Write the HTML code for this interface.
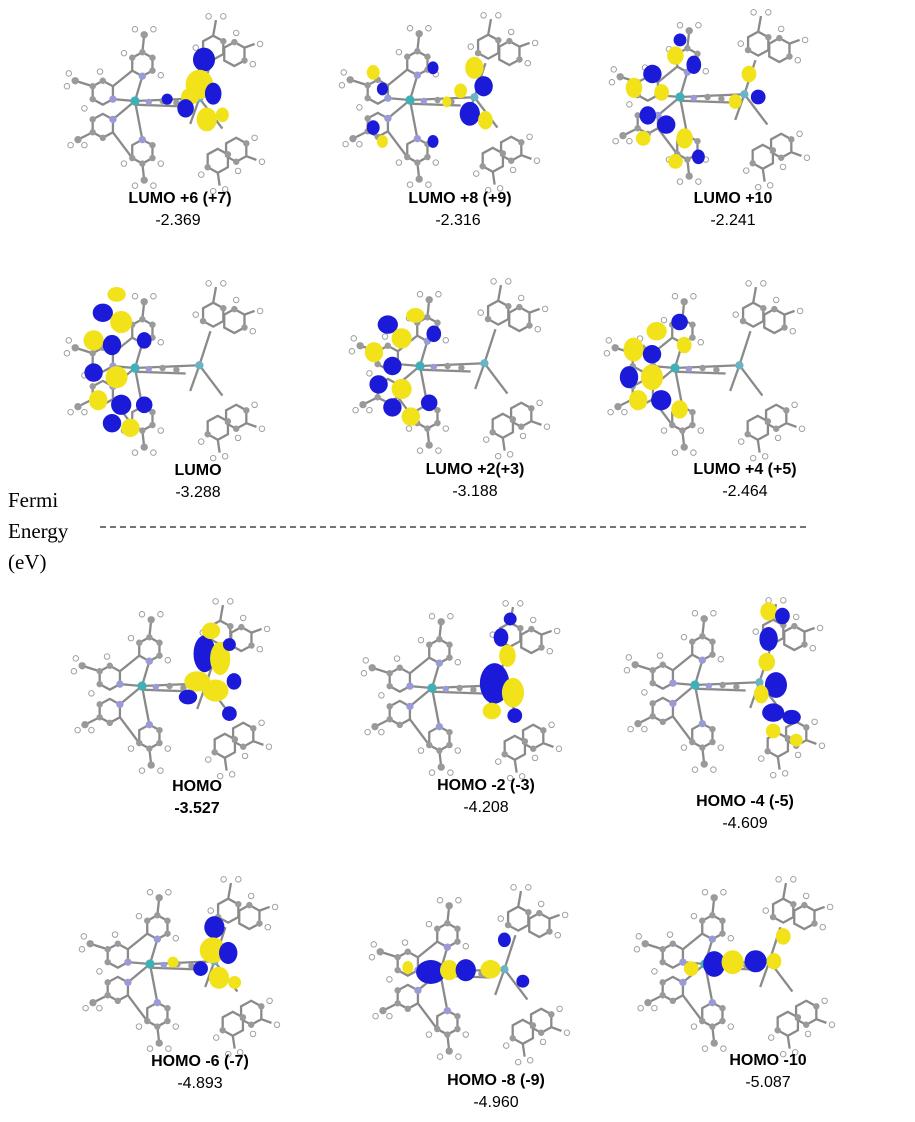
<!DOCTYPE html>
<html><head><meta charset="utf-8"><style>
body{margin:0;background:#fff}
svg{display:block}
.t{font-family:"Liberation Sans",sans-serif;font-size:16px;text-anchor:middle;fill:#000}
.b{font-weight:bold}
.f{font-family:"Liberation Serif",serif;font-size:21px;fill:#000}
</style></head><body>
<svg width="915" height="1122" viewBox="0 0 915 1122" xmlns="http://www.w3.org/2000/svg">
<defs>
<g id="mol">
 <g stroke="#8a8a8a" stroke-width="2.5" fill="none">
  <polygon points="8,-27 19,-33 19,-47 8,-53 -3,-47 -3,-33"/>
  <line x1="0" y1="0" x2="8" y2="-27"/><line x1="8" y1="-53" x2="10" y2="-72"/>
  <polygon points="8,42 19,48 19,62 8,68 -3,62 -3,48"/>
  <line x1="0" y1="0" x2="8" y2="42"/><line x1="8" y1="68" x2="10" y2="86"/>
  <polygon points="-35,-22 -24,-16 -24,-2 -35,4 -46,-2 -46,-16"/>
  <polygon points="-35,14 -24,20 -24,34 -35,40 -46,34 -46,20"/>
  <line x1="0" y1="0" x2="-24" y2="-2"/><line x1="0" y1="0" x2="-24" y2="20"/>
  <line x1="-46" y1="-16" x2="-65" y2="-22"/><line x1="-46" y1="34" x2="-62" y2="42"/>
  <line x1="-3" y1="-33" x2="-24" y2="-16"/><line x1="-3" y1="62" x2="-24" y2="34"/>
  <line x1="0" y1="0" x2="70" y2="-3"/><line x1="0" y1="4" x2="55" y2="6"/>
  <line x1="70" y1="-3" x2="82" y2="-40"/><line x1="70" y1="-3" x2="95" y2="30"/><line x1="70" y1="-3" x2="60" y2="25"/>
  <polygon points="85,-45 96,-51 96,-65 85,-71 74,-65 74,-51"/>
  <polygon points="108,-38 119,-44 119,-58 108,-64 97,-58 97,-44"/>
  <polygon points="110,40 121,46 121,60 110,66 99,60 99,46"/>
  <polygon points="90,52 101,58 101,72 90,78 79,72 79,58"/>
  <line x1="85" y1="-71" x2="88" y2="-88"/><line x1="119" y1="-58" x2="130" y2="-62"/>
  <line x1="121" y1="60" x2="132" y2="64"/><line x1="90" y1="78" x2="92" y2="92"/>
 </g>
 <g fill="#9a9a9a">
  <circle cx="19" cy="-33" r="3.5"/><circle cx="19" cy="-47" r="3.5"/><circle cx="-3" cy="-47" r="3.5"/><circle cx="8" cy="-53" r="3.5"/><circle cx="10" cy="-72" r="4"/>
  <circle cx="19" cy="48" r="3.5"/><circle cx="19" cy="62" r="3.5"/><circle cx="-3" cy="62" r="3.5"/><circle cx="8" cy="68" r="3.5"/><circle cx="10" cy="86" r="4"/>
  <circle cx="-35" cy="-22" r="3.5"/><circle cx="-46" cy="-16" r="3.5"/><circle cx="-46" cy="-2" r="3.5"/><circle cx="-65" cy="-22" r="4"/>
  <circle cx="-35" cy="40" r="3.5"/><circle cx="-46" cy="20" r="3.5"/><circle cx="-46" cy="34" r="3.5"/><circle cx="-62" cy="42" r="4"/>
  <circle cx="30" cy="0" r="3.5"/><circle cx="45" cy="2" r="3.5"/>
  <circle cx="74" cy="-51" r="3.5"/><circle cx="96" cy="-65" r="3.5"/><circle cx="119" cy="-44" r="3.5"/><circle cx="108" cy="-64" r="3.5"/>
  <circle cx="121" cy="46" r="3.5"/><circle cx="110" cy="66" r="3.5"/><circle cx="79" cy="72" r="3.5"/><circle cx="101" cy="58" r="3.5"/>
 </g>
 <g fill="#9a9ad8"><circle cx="8" cy="-27" r="4"/><circle cx="8" cy="42" r="4"/><circle cx="-24" cy="-2" r="4"/><circle cx="-24" cy="20" r="4"/><circle cx="15" cy="1" r="3.5"/></g>
 <g fill="#fff" stroke="#999" stroke-width="1">
  <circle cx="0" cy="-78" r="3"/><circle cx="20" cy="-78" r="3"/><circle cx="28" cy="-28" r="3"/><circle cx="-12" cy="-52" r="3"/>
  <circle cx="0" cy="92" r="3"/><circle cx="20" cy="92" r="3"/><circle cx="28" cy="68" r="3"/><circle cx="-12" cy="68" r="3"/>
  <circle cx="-72" cy="-30" r="3"/><circle cx="-74" cy="-16" r="3"/><circle cx="-38" cy="-32" r="3"/><circle cx="-70" cy="48" r="3"/><circle cx="-55" cy="48" r="3"/><circle cx="-55" cy="8" r="3"/>
  <circle cx="80" cy="-92" r="3"/><circle cx="96" cy="-92" r="3"/><circle cx="66" cy="-58" r="3"/><circle cx="128" cy="-40" r="3"/><circle cx="136" cy="-62" r="3"/><circle cx="110" cy="-74" r="3"/>
  <circle cx="130" cy="40" r="3"/><circle cx="138" cy="66" r="3"/><circle cx="112" cy="76" r="3"/><circle cx="85" cy="98" r="3"/><circle cx="98" cy="96" r="3"/><circle cx="72" cy="80" r="3"/>
 </g>
 <circle cx="0" cy="0" r="5" fill="#3fb0b8"/><circle cx="70" cy="-3" r="4.5" fill="#6ab4c8"/>
</g>
</defs>

<!-- Row 1 -->
<g transform="translate(135,101) scale(0.92)"><use href="#mol"/>
 <ellipse cx="75" cy="-45" rx="12" ry="13" fill="#1a1ad8"/><ellipse cx="70" cy="-18" rx="15" ry="16" fill="#f2e21a"/>
 <ellipse cx="60" cy="-5" rx="10" ry="9" fill="#f2e21a"/><ellipse cx="85" cy="-8" rx="9" ry="12" fill="#1a1ad8"/>
 <ellipse cx="78" cy="20" rx="11" ry="13" fill="#f2e21a"/><ellipse cx="55" cy="8" rx="9" ry="10" fill="#1a1ad8"/>
 <ellipse cx="35" cy="-2" rx="6" ry="6" fill="#1a1ad8"/><ellipse cx="95" cy="15" rx="7" ry="8" fill="#f2e21a"/>
</g>
<g transform="translate(410,100) scale(0.92)"><use href="#mol"/>
 <ellipse cx="-40" cy="-30" rx="7" ry="8" fill="#f2e21a"/><ellipse cx="-30" cy="-12" rx="6" ry="7" fill="#1a1ad8"/>
 <ellipse cx="-40" cy="30" rx="7" ry="8" fill="#1a1ad8"/><ellipse cx="-30" cy="45" rx="6" ry="7" fill="#f2e21a"/>
 <ellipse cx="25" cy="-35" rx="6" ry="7" fill="#1a1ad8"/><ellipse cx="25" cy="45" rx="6" ry="7" fill="#1a1ad8"/>
 <ellipse cx="70" cy="-35" rx="10" ry="12" fill="#f2e21a"/><ellipse cx="80" cy="-15" rx="10" ry="11" fill="#1a1ad8"/>
 <ellipse cx="65" cy="15" rx="11" ry="13" fill="#1a1ad8"/><ellipse cx="82" cy="22" rx="8" ry="10" fill="#f2e21a"/>
 <ellipse cx="55" cy="-10" rx="7" ry="8" fill="#f2e21a"/><ellipse cx="40" cy="2" rx="5" ry="6" fill="#f2e21a"/>
</g>
<g transform="translate(680,97) scale(0.92)"><use href="#mol"/>
 <ellipse cx="-5" cy="-45" rx="9" ry="10" fill="#f2e21a"/><ellipse cx="15" cy="-35" rx="8" ry="10" fill="#1a1ad8"/>
 <ellipse cx="-30" cy="-25" rx="10" ry="10" fill="#1a1ad8"/><ellipse cx="-50" cy="-10" rx="9" ry="11" fill="#f2e21a"/>
 <ellipse cx="-20" cy="-5" rx="8" ry="9" fill="#f2e21a"/><ellipse cx="-35" cy="20" rx="9" ry="10" fill="#1a1ad8"/>
 <ellipse cx="-15" cy="30" rx="10" ry="10" fill="#1a1ad8"/><ellipse cx="5" cy="45" rx="9" ry="11" fill="#f2e21a"/>
 <ellipse cx="-40" cy="45" rx="8" ry="8" fill="#f2e21a"/><ellipse cx="20" cy="65" rx="7" ry="8" fill="#1a1ad8"/>
 <ellipse cx="0" cy="-62" rx="7" ry="7" fill="#1a1ad8"/><ellipse cx="-5" cy="70" rx="8" ry="8" fill="#f2e21a"/>
 <ellipse cx="75" cy="-25" rx="8" ry="9" fill="#f2e21a"/><ellipse cx="85" cy="0" rx="8" ry="8" fill="#1a1ad8"/><ellipse cx="60" cy="5" rx="7" ry="8" fill="#f2e21a"/>
</g>
<!-- Row 2 -->
<g transform="translate(135,368) scale(0.92)"><use href="#mol"/>
 <ellipse cx="-20" cy="-80" rx="10" ry="8" fill="#f2e21a"/><ellipse cx="-35" cy="-60" rx="11" ry="10" fill="#1a1ad8"/>
 <ellipse cx="-15" cy="-50" rx="12" ry="12" fill="#f2e21a"/><ellipse cx="-45" cy="-30" rx="11" ry="11" fill="#f2e21a"/>
 <ellipse cx="-25" cy="-25" rx="10" ry="11" fill="#1a1ad8"/><ellipse cx="-45" cy="5" rx="10" ry="10" fill="#1a1ad8"/>
 <ellipse cx="-20" cy="10" rx="12" ry="12" fill="#f2e21a"/><ellipse cx="-40" cy="35" rx="10" ry="11" fill="#f2e21a"/>
 <ellipse cx="-15" cy="40" rx="11" ry="11" fill="#1a1ad8"/><ellipse cx="-25" cy="60" rx="10" ry="10" fill="#1a1ad8"/>
 <ellipse cx="-5" cy="65" rx="10" ry="10" fill="#f2e21a"/><ellipse cx="10" cy="40" rx="9" ry="9" fill="#1a1ad8"/>
 <ellipse cx="10" cy="-30" rx="8" ry="9" fill="#1a1ad8"/>
</g>
<g transform="translate(420,366) scale(0.92)"><use href="#mol"/>
 <ellipse cx="-5" cy="-55" rx="10" ry="8" fill="#f2e21a"/><ellipse cx="-35" cy="-45" rx="11" ry="10" fill="#1a1ad8"/>
 <ellipse cx="-20" cy="-30" rx="11" ry="11" fill="#f2e21a"/><ellipse cx="-50" cy="-15" rx="10" ry="11" fill="#f2e21a"/>
 <ellipse cx="-30" cy="0" rx="10" ry="10" fill="#1a1ad8"/><ellipse cx="-45" cy="20" rx="10" ry="10" fill="#1a1ad8"/>
 <ellipse cx="-20" cy="25" rx="11" ry="11" fill="#f2e21a"/><ellipse cx="-30" cy="45" rx="10" ry="10" fill="#1a1ad8"/>
 <ellipse cx="-10" cy="55" rx="10" ry="10" fill="#f2e21a"/><ellipse cx="10" cy="40" rx="9" ry="9" fill="#1a1ad8"/>
 <ellipse cx="15" cy="-35" rx="8" ry="9" fill="#1a1ad8"/>
</g>
<g transform="translate(675,368) scale(0.92)"><use href="#mol"/>
 <ellipse cx="5" cy="-50" rx="9" ry="9" fill="#1a1ad8"/><ellipse cx="-20" cy="-40" rx="11" ry="10" fill="#f2e21a"/>
 <ellipse cx="-45" cy="-20" rx="11" ry="13" fill="#f2e21a"/><ellipse cx="-25" cy="-15" rx="10" ry="10" fill="#1a1ad8"/>
 <ellipse cx="-50" cy="10" rx="10" ry="12" fill="#1a1ad8"/><ellipse cx="-25" cy="10" rx="12" ry="14" fill="#f2e21a"/>
 <ellipse cx="-40" cy="35" rx="10" ry="11" fill="#f2e21a"/><ellipse cx="-15" cy="35" rx="11" ry="11" fill="#1a1ad8"/>
 <ellipse cx="5" cy="45" rx="9" ry="10" fill="#f2e21a"/><ellipse cx="10" cy="-25" rx="8" ry="9" fill="#f2e21a"/>
</g>
<!-- Row 3 -->
<g transform="translate(142,686) scale(0.92)"><use href="#mol"/>
 <ellipse cx="68" cy="-35" rx="12" ry="20" fill="#1a1ad8"/><ellipse cx="85" cy="-30" rx="11" ry="18" fill="#f2e21a"/>
 <ellipse cx="75" cy="-60" rx="10" ry="9" fill="#f2e21a"/><ellipse cx="95" cy="-45" rx="7" ry="7" fill="#1a1ad8"/>
 <ellipse cx="60" cy="-5" rx="14" ry="11" fill="#f2e21a"/><ellipse cx="80" cy="5" rx="14" ry="12" fill="#f2e21a"/>
 <ellipse cx="50" cy="12" rx="10" ry="8" fill="#1a1ad8"/><ellipse cx="100" cy="-5" rx="8" ry="9" fill="#1a1ad8"/>
 <ellipse cx="95" cy="30" rx="8" ry="8" fill="#1a1ad8"/>
</g>
<g transform="translate(432,688) scale(0.92)"><use href="#mol"/>
 <ellipse cx="75" cy="-55" rx="8" ry="10" fill="#1a1ad8"/><ellipse cx="82" cy="-35" rx="9" ry="12" fill="#f2e21a"/>
 <ellipse cx="68" cy="-5" rx="16" ry="22" fill="#1a1ad8"/><ellipse cx="88" cy="5" rx="12" ry="16" fill="#f2e21a"/>
 <ellipse cx="65" cy="25" rx="10" ry="9" fill="#f2e21a"/><ellipse cx="90" cy="30" rx="8" ry="8" fill="#1a1ad8"/>
 <ellipse cx="85" cy="-75" rx="7" ry="7" fill="#1a1ad8"/>
</g>
<g transform="translate(695,685) scale(0.92)"><use href="#mol"/>
 <ellipse cx="80" cy="-80" rx="9" ry="10" fill="#f2e21a"/><ellipse cx="95" cy="-75" rx="8" ry="9" fill="#1a1ad8"/>
 <ellipse cx="80" cy="-50" rx="10" ry="13" fill="#1a1ad8"/><ellipse cx="78" cy="-25" rx="9" ry="10" fill="#f2e21a"/>
 <ellipse cx="88" cy="0" rx="12" ry="14" fill="#1a1ad8"/><ellipse cx="72" cy="10" rx="8" ry="10" fill="#f2e21a"/>
 <ellipse cx="85" cy="30" rx="12" ry="10" fill="#1a1ad8"/><ellipse cx="105" cy="35" rx="10" ry="8" fill="#1a1ad8"/>
 <ellipse cx="85" cy="50" rx="8" ry="8" fill="#f2e21a"/><ellipse cx="110" cy="60" rx="7" ry="7" fill="#f2e21a"/>
</g>
<!-- Row 4 -->
<g transform="translate(150,964) scale(0.92)"><use href="#mol"/>
 <ellipse cx="70" cy="-40" rx="11" ry="12" fill="#1a1ad8"/><ellipse cx="68" cy="-15" rx="14" ry="14" fill="#f2e21a"/>
 <ellipse cx="85" cy="-12" rx="10" ry="12" fill="#1a1ad8"/><ellipse cx="75" cy="15" rx="11" ry="12" fill="#f2e21a"/>
 <ellipse cx="55" cy="5" rx="8" ry="8" fill="#1a1ad8"/><ellipse cx="92" cy="20" rx="7" ry="7" fill="#f2e21a"/>
 <ellipse cx="25" cy="-2" rx="6" ry="6" fill="#f2e21a"/>
</g>
<g transform="translate(440,972) scale(0.92)"><use href="#mol"/>
 <ellipse cx="-10" cy="0" rx="16" ry="13" fill="#1a1ad8"/><ellipse cx="10" cy="-2" rx="10" ry="11" fill="#f2e21a"/>
 <ellipse cx="28" cy="-2" rx="11" ry="12" fill="#1a1ad8"/><ellipse cx="55" cy="-3" rx="11" ry="10" fill="#f2e21a"/>
 <ellipse cx="70" cy="-35" rx="7" ry="8" fill="#1a1ad8"/><ellipse cx="-35" cy="-5" rx="6" ry="7" fill="#f2e21a"/>
 <ellipse cx="90" cy="10" rx="7" ry="7" fill="#1a1ad8"/>
</g>
<g transform="translate(705,964) scale(0.92)"><use href="#mol"/>
 <ellipse cx="10" cy="0" rx="12" ry="14" fill="#1a1ad8"/><ellipse cx="30" cy="-2" rx="12" ry="13" fill="#f2e21a"/>
 <ellipse cx="55" cy="-3" rx="12" ry="12" fill="#1a1ad8"/><ellipse cx="75" cy="-3" rx="8" ry="9" fill="#f2e21a"/>
 <ellipse cx="85" cy="-30" rx="8" ry="9" fill="#f2e21a"/><ellipse cx="-15" cy="5" rx="8" ry="8" fill="#f2e21a"/>
</g>

<!-- Labels -->
<text class="t b" x="180" y="203">LUMO +6 (+7)</text><text class="t" x="178" y="225">-2.369</text>
<text class="t b" x="460" y="203">LUMO +8 (+9)</text><text class="t" x="458" y="225">-2.316</text>
<text class="t b" x="733" y="203">LUMO +10</text><text class="t" x="733" y="225">-2.241</text>
<text class="t b" x="198" y="475">LUMO</text><text class="t" x="198" y="497">-3.288</text>
<text class="t b" x="475" y="474">LUMO +2(+3)</text><text class="t" x="475" y="496">-3.188</text>
<text class="t b" x="745" y="474">LUMO +4 (+5)</text><text class="t" x="745" y="496">-2.464</text>
<text class="t b" x="197" y="791">HOMO</text><text class="t b" x="197" y="813">-3.527</text>
<text class="t b" x="486" y="790">HOMO -2 (-3)</text><text class="t" x="486" y="812">-4.208</text>
<text class="t b" x="745" y="806">HOMO -4 (-5)</text><text class="t" x="745" y="828">-4.609</text>
<text class="t b" x="200" y="1066">HOMO -6 (-7)</text><text class="t" x="200" y="1088">-4.893</text>
<text class="t b" x="496" y="1085">HOMO -8 (-9)</text><text class="t" x="496" y="1107">-4.960</text>
<text class="t b" x="768" y="1065">HOMO -10</text><text class="t" x="768" y="1087">-5.087</text>

<text class="f" x="8" y="507">Fermi</text>
<text class="f" x="8" y="538">Energy</text>
<text class="f" x="8" y="569">(eV)</text>
<line x1="100" y1="527" x2="808" y2="527" stroke="#222" stroke-width="1.3" stroke-dasharray="6,4"/>
</svg>
</body></html>
